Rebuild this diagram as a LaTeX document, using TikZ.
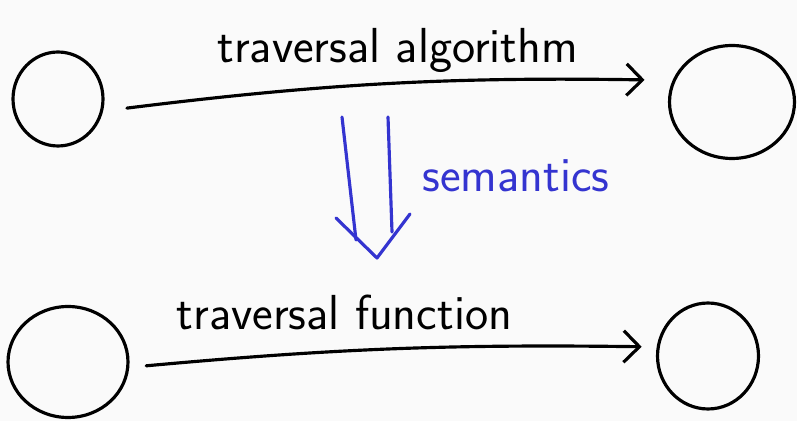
\documentclass[tikz,border=0pt]{standalone}
\usepackage{tikz}
\usetikzlibrary{shapes.geometric,arrows.meta}
\usepackage{color}
\definecolor{fond}{RGB}{250,250,250}
\definecolor{bleu}{RGB}{52,52,208}

\begin{document}
\begin{tikzpicture}[x=0.02cm,y=-0.02cm, line width=1.8pt, line cap=round,
  rond/.style={draw, ellipse, inner sep=0pt},
  fleche/.style={-{Straight Barb[length=9pt,width=18pt,line width=1.8pt]}},
  mot/.style={font=\sffamily\fontsize{28}{32}\selectfont}]

\fill[fond] (0,0) rectangle (797,421); % le fond
\useasboundingbox (0,0) rectangle (797,421);

% les quatre objets
\node[rond, minimum width=1.8cm, minimum height=1.88cm] (A) at (58,99) {};
\node[rond, minimum width=2.5cm, minimum height=2.26cm] (B) at (732,102) {};
\node[rond, minimum width=2.4cm, minimum height=2.22cm] (C) at (68,362) {};
\node[rond, minimum width=2.02cm, minimum height=2.12cm] (D) at (708,356) {};

% en haut : l'algorithme
\draw[fleche, shorten <=0.48cm, shorten >=0.56cm] (A.-15) to[bend left=4]
  node[mot, pos=0.52, above=2pt] (algo) {traversal algorithm} (B.160);

% en bas : la fonction
\draw[fleche, shorten <=0.34cm, shorten >=0.3cm] (C.-5) to[bend left=3]
  node[mot, pos=0.4, above=8pt] (fonc) {traversal function} (D.170);

% la double fleche bleue
\coordinate (g1) at (342,117);
\coordinate (g2) at (356,240);
\coordinate (d1) at (388,117);
\coordinate (d2) at (392,232);
\coordinate (p) at (377,258);
\draw[bleu] (g1) -- (g2);
\draw[bleu] (d1) -- (d2);
\draw[bleu, line join=round] (336,218) -- (p) -- (410,214);
\node[mot, bleu] (sem) at (516,176) {semantics};

\end{tikzpicture}
\end{document}
